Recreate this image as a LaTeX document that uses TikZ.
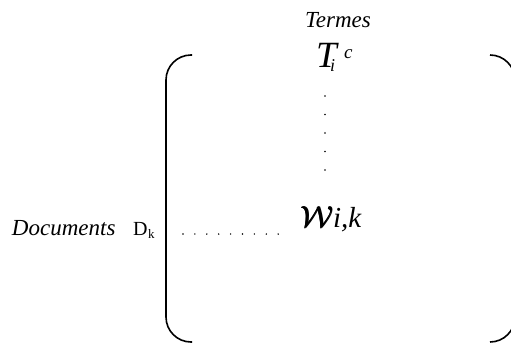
\documentclass[tikz,border=0pt]{standalone}
\usepackage{fontspec}
\usepackage{graphicx}
\setmainfont{Liberation Serif}
\newcommand{\thickW}{\rlap{$\mathcal{W}$}\kern0.5pt\rlap{$\mathcal{W}$}\kern0.5pt$\mathcal{W}$}
\begin{document}
\begin{tikzpicture}[x=1pt,y=-1pt,
  lbl/.style={inner sep=0pt,outer sep=0pt,anchor=base west},
  brk/.style={line width=1.6pt,black,rounded corners=25pt},
  dotmark/.style={fill=black,draw=none}]
\useasboundingbox (0,0) rectangle (511,343);
\clip (0,0) rectangle (511,343);
% labels
\node[inner sep=0pt,anchor=base] (termes) at (338,27) {\fontsize{23}{23}\selectfont\itshape Termes};
\node[lbl] (T) at (316,67) {\fontsize{37}{37}\selectfont\itshape T};
\node[lbl] (Ti) at (330,71) {\fontsize{18}{18}\selectfont\itshape i};
\node[lbl] (Tc) at (344,58) {\fontsize{19}{19}\selectfont\itshape c};
\node[lbl] (docs) at (12,235) {\fontsize{23}{23}\selectfont\itshape Documents};
\node[lbl] (D) at (133,235) {\fontsize{20}{20}\selectfont D};
\node[lbl] (Dk) at (148,238.5) {\fontsize{13}{13}\selectfont k};
\node[lbl] (W) at (300,227) {\fontsize{24.88}{25}\selectfont\scalebox{1.22}{\thickW}};
\node[lbl] (ik) at (333,227) {\fontsize{29}{29}\selectfont\itshape i,k};
% dots
\foreach \yy in {96,114.5,133,151.5,170} \fill[dotmark] (325,\yy) circle (0.8);
\foreach \i in {0,...,8} \fill[dotmark] (183+11.9*\i,234) circle (0.8);
% brackets
\draw[brk] (192,55) -- (166,55) -- (166,342) -- (192,342);
\draw[brk] (490,55) -- (515,55) -- (515,342) -- (490,342);
\end{tikzpicture}
\end{document}
